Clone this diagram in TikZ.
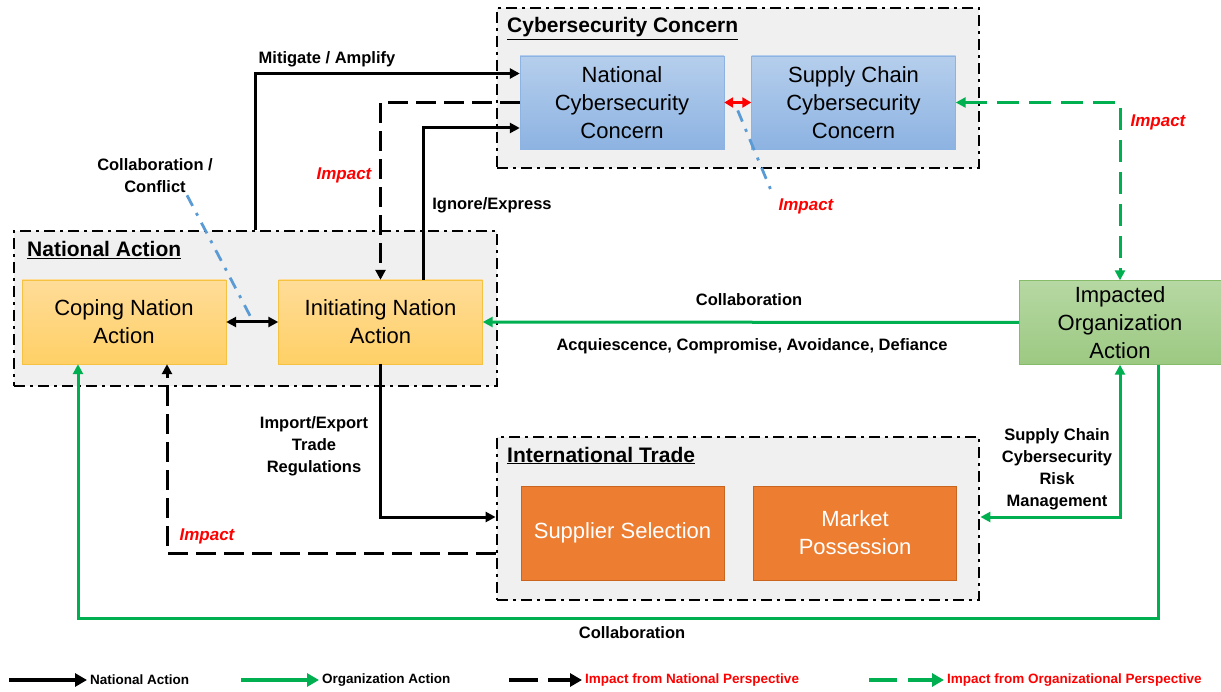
\documentclass[tikz,border=0pt]{standalone}
\usepackage{fontspec}
\setmainfont{Liberation Sans}
\usetikzlibrary{positioning, arrows.meta, calc}

\definecolor{grpgray}{HTML}{F0F0F0}
\definecolor{blueA}{HTML}{B5CEEC}
\definecolor{blueB}{HTML}{8DB3E2}
\definecolor{blueedge}{HTML}{8DB3E2}
\definecolor{yelA}{HTML}{FFDC98}
\definecolor{yelB}{HTML}{FFD066}
\definecolor{yeledge}{HTML}{F5C242}
\definecolor{grnA}{HTML}{B6D8A3}
\definecolor{grnB}{HTML}{9CC982}
\definecolor{grnedge}{HTML}{86BB69}
\definecolor{orgfill}{HTML}{ED7D31}
\definecolor{orgedge}{HTML}{C9651F}
\definecolor{arrgreen}{HTML}{00B050}
\definecolor{impred}{HTML}{FF0000}
\definecolor{linkblue}{HTML}{5B9BD5}

\begin{document}
\begin{tikzpicture}[x=1pt, y=-1pt,
    grp/.style={draw, fill=grpgray, line width=2.8pt,
      dash pattern=on 11pt off 5pt on 3pt off 5pt, minimum width=482pt, inner sep=0pt},
    grptitle/.style={anchor=base west, font=\fontsize{21}{24}\selectfont\bfseries, inner sep=0pt},
    boxtext/.style={align=center, inner sep=0pt, font=\fontsize{22}{28}\selectfont},
    cbox/.style={boxtext, draw=blueedge, top color=blueA, bottom color=blueB,
      minimum width=204pt, minimum height=93pt},
    nbox/.style={boxtext, draw=yeledge, top color=yelA, bottom color=yelB,
      minimum width=204pt, minimum height=84pt},
    tbox/.style={boxtext, draw=orgedge, fill=orgfill, text=white,
      minimum width=203pt, minimum height=94pt},
    obox/.style={boxtext, draw=grnedge, top color=grnA, bottom color=grnB,
      minimum width=202pt, minimum height=84pt},
    lbl/.style={font=\fontsize{16.5}{22}\selectfont\bfseries, align=center, inner sep=0pt},
    implbl/.style={font=\fontsize{17}{20}\selectfont\bfseries\itshape, text=impred, inner sep=0pt},
    nat/.style={line width=3pt, -{Triangle[length=10pt,width=10pt]}},
    both/.style={{Triangle[length=10pt,width=10pt]}-{Triangle[length=10pt,width=10pt]}},
    natdash/.style={nat, dash pattern=on 20pt off 8pt},
    org/.style={nat, draw=arrgreen},
    orgdash/.style={org, dash pattern=on 22pt off 10pt},
    link/.style={draw=linkblue, line width=2.8pt, dash pattern=on 12pt off 8pt on 3pt off 8pt},
    legtxt/.style={anchor=west, font=\fontsize{13.5}{16}\selectfont\bfseries, inner sep=0pt},
    legarr/.style={line width=4.5pt, -{Triangle[length=12pt,width=13pt]}, shorten >=3pt}
  ]
    \useasboundingbox (0,0) rectangle (1221,692);

    % Groups
    \node[grp, minimum height=160pt] (cybgrp) at (738,88) {};
    \node[grp, minimum width=483pt, minimum height=155pt] (natgrp) at (255.5,308.5) {};
    \node[grp, minimum height=163pt] (tradegrp) at (738,518.5) {};
    \node[grptitle] (cybtitle) at (507,33) {\underline{Cybersecurity Concern}};
    \node[grptitle] (nattitle) at (27,257) {\underline{National Action}};
    \node[grptitle] (tradetitle) at (507,462) {\underline{International Trade}};

    % Boxes
    \node[cbox] (ncc) at (622,102.5) {National\\Cybersecurity\\Concern};
    \node[cbox] (scc) at (853.5,102.5) {Supply Chain\\Cybersecurity\\Concern};
    \node[nbox] (coping) at (124,322) {Coping Nation\\Action};
    \node[nbox] (init) at (380.5,322) {Initiating Nation\\Action};
    \node[tbox] (supsel) at (622.5,533) {Supplier Selection};
    \node[tbox] (market) at (855,533) {Market\\Possession};
    \node[obox] (imporg) at (1120,322.5) {Impacted\\Organization\\Action};

    % Labels
    \node[lbl] (lmitig) at (327,59) {Mitigate / Amplify};
    \node[lbl] (lcc) at (155,176) {Collaboration /\\Conflict};
    \node[lbl] (lignore) at (492,205) {Ignore/Express};
    \node[lbl] (lcollab) at (749,300) {Collaboration};
    \node[lbl] (lacq) at (752,346) {Acquiescence, Compromise, Avoidance, Defiance};
    \node[lbl] (ltrade) at (314,446) {Import/Export\\Trade\\Regulations};
    \node[lbl] (lscrm) at (1057,469) {Supply Chain\\Cybersecurity\\Risk\\Management};
    \node[lbl] (lcollab2) at (632,633) {Collaboration};
    \node[implbl] (limp1) at (344,175) {Impact};
    \node[implbl] (limp2) at (806,206) {Impact};
    \node[implbl] (limp3) at (1158,122) {Impact};
    \node[implbl] (limp4) at (207,536) {Impact};

    % Dash-dot links
    \draw[link] ($(ncc.east)!0.5!(scc.west)+(0,8)$) -- ($(limp2.north west)+(-5,-2)$);
    \draw[link] ($(lcc.south)+(32,2)$) -- ($(coping.east)!0.5!(init.west)+(0,-2)$);

    % National actions
    \draw[nat] (natgrp.north) |- ($(ncc.west)+(0,-29)$);
    \draw[nat] ($(init.north)+(42.5,0)$) |- ($(ncc.west)+(0,25.5)$);
    \draw[natdash] (ncc.west) -| (init.north);
    \draw[nat, both] (coping.east) -- (init.west);
    \draw[nat, draw=impred, {Triangle[length=9pt,width=10pt]}-{Triangle[length=9pt,width=10pt]}] (ncc.east) -- (scc.west);
    \draw[nat] (init.south) |- ($(tradegrp.west)+(0,-1.5)$);
    \draw[natdash] ($(tradegrp.west)+(0,34.5)$) -| ($(coping.south)+(43,0)$);

    % Organization actions
    \draw[org] (imporg.west) -- (init.east);
    \draw[orgdash, both] (scc.east) -| (imporg.north);
    \draw[org, both] ($(tradegrp.east)+(0,-1.5)$) -| (imporg.south);
    \draw[org] ($(imporg.south)+(38,0)$) -- ++(0,254) -| ($(coping.south)+(-46,0)$);

    % Legend
    \coordinate (lgnatA) at (9,680);
    \coordinate (lgorgA) at (241,680);
    \coordinate (lgnatdA) at (509,680);
    \coordinate (lgorgdA) at (869,680);
    \node[legtxt] (lgnat) at (90,680) {National Action};
    \node[legtxt] (lgorg) at (322,680) {Organization Action};
    \node[legtxt, text=impred] (lgnatd) at (585,680) {Impact from National Perspective};
    \node[legtxt, text=impred] (lgorgd) at (947,680) {Impact from Organizational Perspective};
    \draw[legarr] (lgnatA) -- (lgnat.west);
    \draw[legarr, draw=arrgreen] (lgorgA) -- (lgorg.west);
    \draw[legarr, dash pattern=on 29pt off 10pt] (lgnatdA) -- (lgnatd.west);
    \draw[legarr, draw=arrgreen, dash pattern=on 28pt off 11pt] (lgorgdA) -- (lgorgd.west);
\end{tikzpicture}
\end{document}
